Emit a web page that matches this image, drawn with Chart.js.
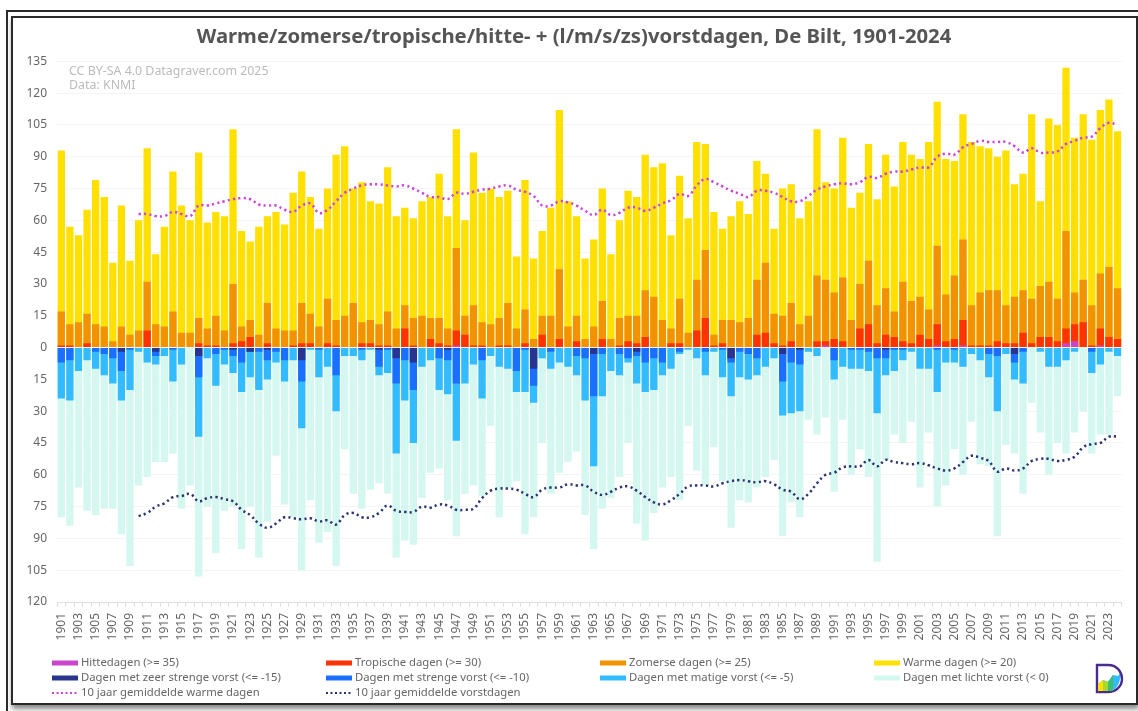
<!DOCTYPE html>
<html>
<head>
<meta charset="utf-8">
<title>Warme dagen en vorstdagen De Bilt</title>
<script src="https://cdn.jsdelivr.net/npm/chart.js@4/dist/chart.umd.min.js"></script>
<style>
    html, body { margin: 0; padding: 0; background: #fff; overflow: hidden; }
    #outer { position: absolute; left: 6px; top: 10px; width: 1140px; height: 710px; border-left: 2px solid #2a2a2a; border-top: 2px solid #2a2a2a; }
    #inner { position: absolute; left: 11px; top: 16px; width: 1123px; height: 685px; border: 2px solid #2a2a2a; box-shadow: 1px 4px 5px #888; background: #fff; }
    #chart { position: absolute; left: 0; top: 0; filter: blur(0.35px); }
    #logo { position: absolute; left: 1094px; top: 663px; width: 30px; height: 31px; }
</style>
</head>
<body>
<div id="outer"></div>
<div id="inner"></div>
<canvas id="chart" width="1138" height="711"></canvas>
<svg id="logo" viewBox="0 0 30 31">
    <path d="M3 2 H14 C24 2 28 10 28 16 C28 24 21 29 14 29 H3 Z" fill="#fff" stroke="#4a2c90" stroke-width="2.4"/>
    <path d="M4 28 V21 L9 17 L14 19 L19 12 L24 13 L26 10 C27 18 24 26 16 28 Z" fill="#33bbff"/>
    <path d="M4 28 V21 L9 17 V28 Z" fill="#ffe000"/>
    <path d="M9 28 V17 L14 19 V28 Z" fill="#a8d830"/>
    <path d="M14 28 V19 L19 12 V28 Z" fill="#3cc070"/>
</svg>
<script>
var years = [];
for (var y = 1901; y <= 2024; y++) years.push(String(y));

var warmDays = [
    93,57,53,65,79,71,40,67,41,60, 94,44,57,83,67,60,92,59,64,62,
    103,55,50,57,62,64,58,73,83,71, 56,75,91,95,75,78,69,68,85,62,
    66,61,69,71,82,62,103,60,92,73, 75,71,74,43,79,42,55,66,112,69,
    62,42,51,75,44,60,74,71,91,85, 87,53,81,61,97,96,64,56,62,69,
    63,88,82,56,75,77,61,69,103,78, 75,99,66,73,96,70,91,76,97,91,
    89,97,116,89,88,110,97,95,94,90, 93,77,82,110,69,108,105,132,99,110,
    98,112,117,102
];
var summerDays = [
    17,11,12,16,11,10,3,10,6,8, 31,11,10,17,7,7,14,9,15,8,
    30,10,13,6,21,9,8,8,21,16, 10,23,13,15,21,12,13,11,17,9,
    20,14,15,14,14,9,47,15,20,12, 11,14,21,9,18,4,15,15,37,10,
    15,4,10,22,4,14,15,15,27,24, 13,9,23,7,32,46,6,13,13,12,
    14,32,40,16,15,21,11,15,34,32, 26,33,13,30,41,20,28,17,31,22,
    24,18,48,25,34,51,20,26,27,27, 20,24,27,23,29,31,23,55,26,32,
    20,35,38,28
];
var tropicalDays = [
    1,1,0,2,0,0,0,0,0,0, 8,0,0,0,0,0,2,1,1,0,
    2,3,5,0,2,0,0,1,2,2, 0,2,1,0,0,2,2,1,1,0,
    9,1,0,4,2,1,8,6,1,1, 0,1,1,0,2,0,6,0,4,0,
    3,0,0,4,0,1,3,2,5,0, 0,2,2,0,8,14,1,2,0,0,
    0,6,7,2,1,3,0,0,3,3, 4,3,0,9,11,2,6,5,3,2,
    6,4,11,3,4,13,1,1,1,3, 2,2,7,2,5,5,3,9,11,12,
    1,9,5,4
];
var heatDays = [
    0,0,0,0,0,0,0,0,0,0, 0,0,0,0,0,0,0,0,0,0,
    0,0,0,0,0,0,0,0,0,0, 0,0,0,0,0,0,0,0,0,0,
    0,0,0,0,0,0,1,0,0,0, 0,0,0,0,0,0,0,0,0,0,
    0,0,0,0,0,0,0,0,0,0, 0,0,0,0,0,0,0,0,0,0,
    0,0,0,0,0,0,0,0,0,1, 0,0,0,0,0,0,0,0,0,0,
    0,0,1,0,0,1,0,0,0,0, 0,0,0,0,0,0,0,2,3,0,
    0,1,0,0
];
var lightFrost = [
    -80,-84,-66,-77,-79,-76,-76,-88,-103,-65, -61,-54,-54,-50,-76,-65,-108,-75,-97,-77,
    -75,-95,-75,-99,-82,-51,-74,-80,-105,-72, -92,-87,-103,-48,-69,-76,-67,-64,-69,-99,
    -91,-93,-71,-59,-57,-72,-89,-69,-65,-70, -37,-80,-66,-63,-88,-80,-45,-69,-59,-54,
    -49,-79,-95,-76,-71,-61,-45,-83,-91,-78, -66,-61,-72,-37,-58,-65,-47,-63,-85,-72,
    -73,-66,-61,-53,-89,-73,-80,-34,-41,-33, -68,-34,-60,-48,-61,-101,-53,-41,-45,-35,
    -66,-40,-75,-65,-48,-60,-35,-55,-56,-89, -46,-50,-69,-26,-40,-60,-45,-50,-40,-30,
    -50,-41,-41,-23
];
var moderateFrost = [
    -24,-25,-11,-6,-10,-13,-17,-25,-20,-2, -7,-8,-4,-16,-8,0,-42,-5,-18,-8,
    -12,-21,-14,-20,-15,-7,-16,-6,-38,-1, -14,-9,-30,-4,-4,-6,-1,-13,-12,-50,
    -25,-45,-9,-6,-20,-22,-44,-17,-8,-24, -4,-9,-10,-21,-21,-26,-5,-10,-7,-9,
    -13,-25,-56,-23,-11,-13,-7,-17,-21,-20, -13,-10,-3,-1,-5,-13,-2,-14,-23,-14,
    -15,-13,-9,-5,-32,-31,-30,-2,-4,0, -15,-9,-10,-10,-11,-31,-13,-11,-6,-2,
    -10,-10,-21,-7,-7,-9,-3,-6,-14,-30, -3,-15,-17,0,-2,-9,-9,-6,-2,0,
    -12,-8,-2,-4
];
var hardFrost = [
    -7,-6,0,0,-2,-3,-5,-11,-1,0, 0,-4,0,-1,0,0,-14,0,-3,-1,
    -4,-7,-2,-2,-6,-2,-6,0,-16,0, -1,0,-13,0,0,-1,0,-9,-1,-17,
    -6,-20,0,0,-5,-6,-17,0,0,-6, 0,0,0,-11,-1,-18,0,-2,0,0,
    -4,-5,-23,-3,0,-3,-5,-4,-7,-5, -7,0,-2,0,0,-2,0,-1,-7,-2,
    -3,-5,0,0,-16,-7,-8,0,0,0, -6,0,-1,-1,-2,-5,-5,-1,-1,0,
    0,0,-1,0,-1,0,0,0,-3,-4, 0,-7,-2,0,0,0,0,0,0,0,
    -2,0,0,0
];
var veryHardFrost = [
    0,0,0,0,0,0,0,-2,0,0, 0,-2,0,0,0,0,-4,0,0,0,
    -1,0,-2,0,-1,0,0,0,-6,0, 0,0,0,0,0,0,0,-1,0,-5,
    0,-7,0,0,0,-1,0,0,0,0, 0,0,0,0,0,-10,0,0,0,0,
    0,0,-3,0,0,0,0,-2,0,0, 0,0,0,0,0,0,0,0,-5,0,
    0,0,0,0,-3,0,-1,0,0,0, 0,0,0,0,0,0,-1,0,0,0,
    0,0,0,0,0,0,0,0,0,0, 0,-3,0,0,0,0,0,0,0,0,
    0,0,0,0
];
var warmAverage = [
    null,null,null,null,null,null,null,null,null,63,
    63,62,62,64,63,62,67,67,68,69, 70,70.5,70,67.5,67,67,65,64,67,68,
    63.5,65,69,73,75,76.5,77,77,76.5,76, 76.5,75,73,71,71,70,73,72.5,73.5,74.5,
    75,76,76.5,74.5,73.5,71.5,67,67,69,68.5, 67,64.5,62.5,65,62.5,63.5,66,66,64.5,66,
    68,69.5,72.5,71.5,76.5,79.5,78,76,74,72.5, 71,74,74,73,71,69,69,71.5,74.5,76,
    77,77.5,77,78,80.5,80,82,83,83,84, 85,85,90,91.5,91,94.5,96,97.5,97,97,
    97,95,92,94,92,92,92.5,96,97.5,99, 99.5,103.5,106,105
];
var frostAverage = [
    null,null,null,null,null,null,null,null,null,-79.5,
    -78,-75,-73.5,-70.5,-70,-69,-72.5,-71,-70.5,-71.5, -72.5,-76.5,-79,-83,-85,-83,-80,-80.5,-81,-80.5,
    -82,-81.5,-83.5,-79,-78,-80,-80,-78,-74.5,-77, -77.5,-77.5,-75,-75.5,-74,-74.5,-76.5,-76.5,-76,-71,
    -67.5,-66.5,-66.5,-67,-69,-70.5,-67,-66,-66,-64.5, -65,-65,-68,-69.5,-68,-66,-65.5,-67.5,-70.5,-73,
    -74,-72,-69,-65.5,-65,-65,-65.5,-64,-63,-62.5, -63,-63.5,-63,-64.5,-67,-68,-71.5,-69,-64,-60,
    -59,-56.5,-56,-56,-53,-56,-53,-54,-54.5,-55, -54.5,-55.5,-57,-58,-57,-54,-51,-52,-53.5,-58.5,
    -57,-58,-57,-53.5,-52.5,-52.5,-53.5,-53,-51.5,-47, -45.5,-45,-42,-42
];

var tickColor = '#666';
var fontName = '"Noto Sans", "Open Sans", sans-serif';

function barSet(label, data, color, order) {
    return {
        type: 'bar',
        label: label,
        data: data,
        backgroundColor: color,
        borderWidth: 0,
        grouped: false,
        order: order,
        barPercentage: 0.85,
        categoryPercentage: 1
    };
}

function lineSet(label, data, color) {
    return {
        type: 'line',
        label: label,
        data: data,
        borderColor: color,
        backgroundColor: color,
        borderWidth: 2.5,
        borderDash: [2.2, 3.2],
        pointRadius: 0,
        tension: 0.4,
        spanGaps: false,
        order: 0
    };
}

// legend slots in the order of the datasets: column, row
var legendColumns = [52, 326, 600, 874];
var legendRows = [663, 678, 693];

var legendPlugin = {
    id: 'gridLegend',
    afterDraw: function(chart) {
        var c = chart.ctx;
        c.save();
        c.font = '11.3px ' + fontName;
        c.textBaseline = 'middle';
        chart.data.datasets.forEach(function(ds) {
            var x = legendColumns[ds.legendSlot[0]];
            var y = legendRows[ds.legendSlot[1]];
            c.strokeStyle = ds.type === 'line' ? ds.borderColor : ds.backgroundColor;
            c.lineWidth = ds.type === 'line' ? 2 : 5;
            c.setLineDash(ds.type === 'line' ? [2, 2.5] : []);
            c.beginPath();
            c.moveTo(x, y);
            c.lineTo(x + 26, y);
            c.stroke();
            c.setLineDash([]);
            c.fillStyle = tickColor;
            c.fillText(ds.label, x + 29, y);
        });
        // source note in the plot corner
        c.font = '12.4px ' + fontName;
        c.fillStyle = '#bbb';
        c.fillText('CC BY-SA 4.0 Datagraver.com 2025', 69, 71);
        c.fillText('Data: KNMI', 69, 85);
        c.restore();
    }
};

var datasets = [
    barSet('Hittedagen (>= 35)', heatDays, '#cc44cc', 1),
    barSet('Tropische dagen (>= 30)', tropicalDays, '#ff3300', 2),
    barSet('Zomerse dagen (>= 25)', summerDays, '#f39200', 3),
    barSet('Warme dagen (>= 20)', warmDays, '#ffe000', 4),
    barSet('Dagen met zeer strenge vorst (<= -15)', veryHardFrost, '#29348e', 1),
    barSet('Dagen met strenge vorst (<= -10)', hardFrost, '#1a6fff', 2),
    barSet('Dagen met matige vorst (<= -5)', moderateFrost, '#33bbff', 3),
    barSet('Dagen met lichte vorst (< 0)', lightFrost, '#d4f7f0', 4),
    lineSet('10 jaar gemiddelde warme dagen', warmAverage, '#cc44dd'),
    lineSet('10 jaar gemiddelde vorstdagen', frostAverage, '#2a3570')
];
var slots = [[0,0],[1,0],[2,0],[3,0],[0,1],[1,1],[2,1],[3,1],[0,2],[1,2]];
datasets.forEach(function(ds, i) { ds.legendSlot = slots[i]; });

new Chart(document.getElementById('chart').getContext('2d'), {
    data: { labels: years, datasets: datasets },
    plugins: [legendPlugin],
    options: {
        responsive: false,
        animation: false,
        layout: { padding: { left: 26, right: 16, top: 0, bottom: 0 } },
        plugins: {
            legend: { display: false },
            tooltip: { enabled: false },
            title: {
                display: true,
                text: 'Warme/zomerse/tropische/hitte- + (l/m/s/zs)vorstdagen, De Bilt, 1901-2024',
                color: '#555',
                font: { family: fontName, size: 20.3, weight: 'bold' },
                padding: { top: 25, bottom: 12 }
            }
        },
        scales: {
            x: {
                afterFit: function(scale) { scale.height = 109; },
                grid: { drawOnChartArea: false, color: '#e0e0e0', tickLength: 5 },
                border: { color: '#e0e0e0' },
                ticks: {
                    autoSkip: false,
                    minRotation: 90,
                    maxRotation: 90,
                    padding: 6,
                    color: tickColor,
                    font: { family: fontName, size: 12 },
                    callback: function(value, index) {
                        return index % 2 === 0 ? this.getLabelForValue(value) : '';
                    }
                }
            },
            y: {
                min: -120,
                max: 135,
                afterFit: function(scale) { scale.width = 31; },
                grid: { color: '#f4f4f4', drawTicks: false },
                border: { display: false },
                ticks: {
                    stepSize: 15,
                    padding: 10,
                    color: tickColor,
                    font: { family: fontName, size: 12 },
                    callback: function(value) { return Math.abs(value); }
                }
            }
        }
    }
});
</script>
</body>
</html>
